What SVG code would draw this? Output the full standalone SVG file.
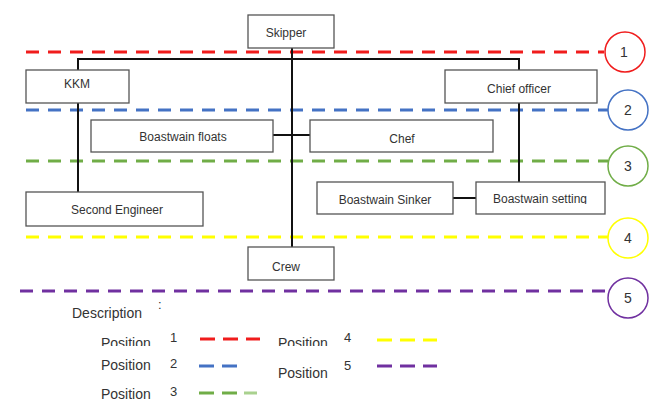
<svg xmlns="http://www.w3.org/2000/svg" width="660" height="401" viewBox="0 0 660 401">
<style>
.box{fill:#fff;stroke:#555;stroke-width:1.3}
.t{font-family:"Liberation Sans",Arial,sans-serif;font-size:12px;fill:#333;text-anchor:middle}
.lg{font-family:"Liberation Sans",Arial,sans-serif;font-size:14px;fill:#333}
.n{font-family:"Liberation Sans",Arial,sans-serif;font-size:13px;fill:#333}
.cn{font-family:"Liberation Sans",Arial,sans-serif;font-size:14px;fill:#333;text-anchor:middle}
.c{stroke:#111;stroke-width:2;fill:none}
.d{stroke-width:3;stroke-dasharray:13 9;fill:none}
.ld{stroke-width:3;stroke-dasharray:15 8;fill:none}
.r{stroke:#f01c1c}.b{stroke:#4472c4}.g{stroke:#70ad47}.y{stroke:#ffff00}.p{stroke:#7030a0}
.circ{fill:#fff;stroke-width:1.5}
</style>
<defs>
<clipPath id="clipSinker"><rect x="317" y="182" width="137" height="24"/></clipPath>
<clipPath id="clipSetting"><rect x="476" y="182" width="130" height="22"/></clipPath>
<clipPath id="clipPos1"><rect x="90" y="320" width="300" height="26"/></clipPath>
</defs>
<rect width="660" height="401" fill="#fff"/>
<g id="levels">
<line class="d r" x1="26" y1="52" x2="604" y2="52"/>
<line class="d b" x1="26" y1="110" x2="608" y2="110"/>
<line class="d g" x1="26" y1="161" x2="608" y2="161"/>
<line class="d y" x1="26" y1="237" x2="608" y2="237"/>
<line class="d p" x1="20" y1="291" x2="606" y2="291"/>
</g>
<g id="connectors">
<polyline class="c" points="78,70 78,59 519,59 519,70"/>
<line class="c" x1="292" y1="48" x2="292" y2="247"/>
<line class="c" x1="78" y1="103" x2="78" y2="192"/>
<line class="c" x1="273" y1="135" x2="310" y2="135"/>
<line class="c" x1="519" y1="103" x2="519" y2="182"/>
<line class="c" x1="453" y1="198" x2="476" y2="198"/>
</g>
<g id="skipper"><rect class="box" x="248" y="15" width="86" height="33"/><text class="t" x="286" y="37">Skipper</text></g>
<g id="kkm"><rect class="box" x="26" y="70" width="103" height="33"/><text class="t" x="77" y="88">KKM</text></g>
<g id="chief-officer"><rect class="box" x="445" y="70" width="152" height="33"/><text class="t" x="519" y="93">Chief officer</text></g>
<g id="boastwain-floats"><rect class="box" x="91" y="120" width="182" height="32"/><text class="t" x="183" y="141">Boastwain floats</text></g>
<g id="chef"><rect class="box" x="310" y="120" width="183" height="32"/><text class="t" x="402" y="143">Chef</text></g>
<g id="boastwain-sinker"><rect class="box" x="317" y="182" width="136" height="32"/><text class="t" x="385" y="204" clip-path="url(#clipSinker)">Boastwain Sinker</text></g>
<g id="boastwain-setting"><rect class="box" x="476" y="182" width="129" height="32"/><text class="t" x="540" y="203" clip-path="url(#clipSetting)">Boastwain setting</text></g>
<g id="second-engineer"><rect class="box" x="26" y="192" width="177" height="34"/><text class="t" x="117" y="214">Second Engineer</text></g>
<g id="crew"><rect class="box" x="248" y="247" width="86" height="33"/><text class="t" x="286" y="271">Crew</text></g>
<g id="circle1"><circle class="circ r" cx="625" cy="52" r="20"/><text class="cn" x="624" y="57">1</text></g>
<g id="circle2"><circle class="circ b" cx="628" cy="110" r="20"/><text class="cn" x="628" y="115">2</text></g>
<g id="circle3"><circle class="circ g" cx="628" cy="166" r="20"/><text class="cn" x="628" y="171">3</text></g>
<g id="circle4"><circle class="circ y" cx="628" cy="238" r="20"/><text class="cn" x="628" y="243">4</text></g>
<g id="circle5"><circle class="circ p" cx="628" cy="298" r="20"/><text class="cn" x="628" y="303">5</text></g>
<g id="legend">
<text class="lg" x="72" y="318">Description</text>
<text class="n" x="158" y="309">:</text>
<g clip-path="url(#clipPos1)">
<text class="lg" x="101" y="348">Position</text>
<text class="lg" x="278" y="348">Position</text>
</g>
<text class="n" x="170" y="342">1</text>
<line class="ld r" x1="200" y1="339" x2="260" y2="339"/>
<text class="n" x="344" y="342">4</text>
<line class="ld y" x1="377" y1="340" x2="437" y2="340"/>
<text class="lg" x="101" y="370">Position</text>
<text class="n" x="170" y="368">2</text>
<line class="ld b" x1="199" y1="366" x2="237" y2="366"/>
<text class="lg" x="278" y="378">Position</text>
<text class="n" x="344" y="370">5</text>
<line class="ld p" x1="377" y1="366" x2="437" y2="366"/>
<text class="lg" x="101" y="399">Position</text>
<text class="n" x="170" y="396">3</text>
<line class="ld g" x1="199" y1="393" x2="237" y2="393"/>
<line x1="244" y1="393" x2="257" y2="393" stroke="#a9d18e" stroke-width="3"/>
</g>
</svg>
